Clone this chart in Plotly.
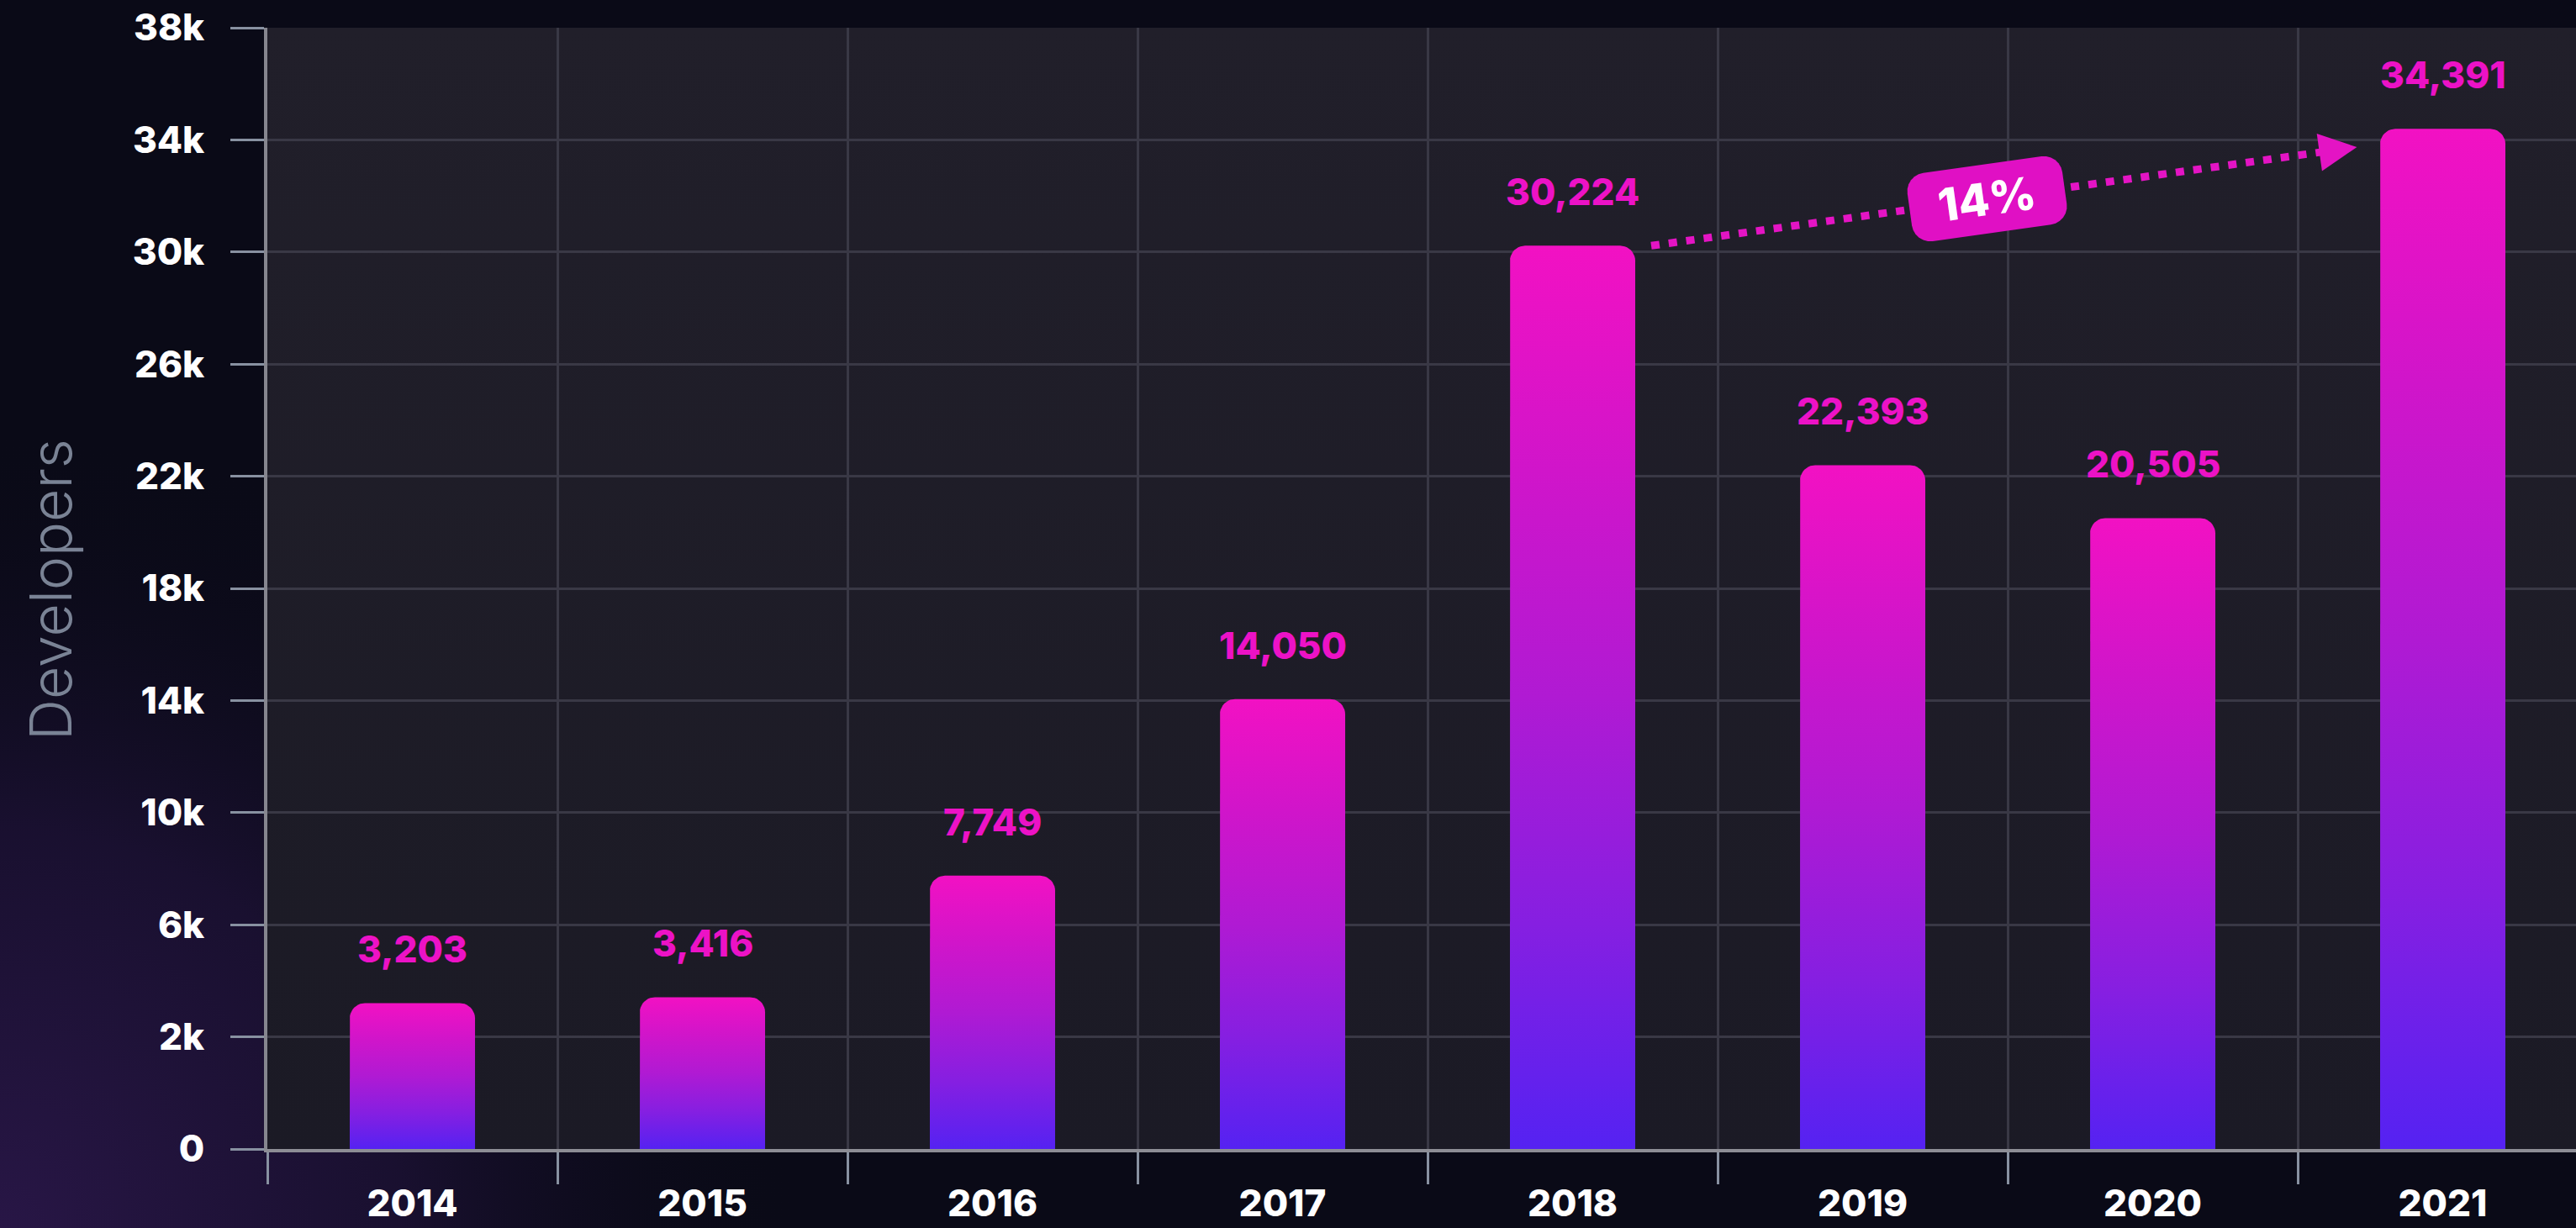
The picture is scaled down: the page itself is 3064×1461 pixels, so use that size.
import math
import plotly.graph_objects as go

# ---------------- data ----------------
years = ["2014", "2015", "2016", "2017", "2018", "2019", "2020", "2021"]
developers = [3203, 3416, 7749, 14050, 30224, 22393, 20505, 34391]
y_tick_vals = [-2000, 2000, 6000, 10000, 14000, 18000, 22000, 26000, 30000, 34000, 38000]
y_tick_text = ["0", "2k", "6k", "10k", "14k", "18k", "22k", "26k", "30k", "34k", "38k"]
growth_label = "14%"
axis_title = "Developers"

# ---------------- layout constants ----------------
W, H = 3064, 1461
L_PX, T_PX, B_PX = 318, 33, 94
PLOT_W = W - L_PX
PLOT_H = H - T_PX - B_PX
Y_MIN, Y_MAX = -2000, 38000
BASE = Y_MIN
CAT_PX = 345.0
X_MIN = -0.5
X_MAX = X_MIN + PLOT_W / CAT_PX
BAR_HALF = 0.216
RADIUS_PX = 18

PAPER = "#0a0a17"
GRID = "#393845"
TICK = "#8891a1"
PINK = "#ec12c6"
ARROW_PINK = "#e414c4"
BAR_SCALE = [[0, "#5522f2"], [0.25, "#861fe1"], [0.5, "#b01ad3"], [0.75, "#d015ca"], [1, "#f211c3"]]
FONT = "Inter"


def px_x(v):
    return L_PX + (v - X_MIN) * CAT_PX


def px_y(v):
    return T_PX + PLOT_H - (v - Y_MIN) / (Y_MAX - Y_MIN) * PLOT_H


def bar_outline(c, top):
    rx = RADIUS_PX / CAT_PX
    ry = RADIUS_PX * (Y_MAX - Y_MIN) / PLOT_H
    xl, xr = c - BAR_HALF, c + BAR_HALF
    xs, ys = [xl, xl], [BASE, top - ry]
    n = 10
    for k in range(1, n + 1):
        a = math.pi - k * (math.pi / 2) / n
        xs.append(xl + rx + rx * math.cos(a))
        ys.append(top - ry + ry * math.sin(a))
    for k in range(0, n + 1):
        a = math.pi / 2 - k * (math.pi / 2) / n
        xs.append(xr - rx + rx * math.cos(a))
        ys.append(top - ry + ry * math.sin(a))
    xs += [xr, xl]
    ys += [BASE, BASE]
    return xs, ys


fig = go.Figure()

# ---- background (full-paper subplot x/y with range 0..1) ----
glow_x, glow_y = [], []
for k in range(0, 73):
    a = 2 * math.pi * k / 72
    glow_x.append(0.0 + 950 / W * math.cos(a))
    glow_y.append(0.0 + 950 / H * math.sin(a))
fig.add_trace(go.Scatter(
    x=glow_x, y=glow_y, xaxis="x", yaxis="y", mode="lines", line=dict(width=0),
    fill="toself",
    fillgradient=dict(type="radial", colorscale=[[0, "rgba(40,22,70,1)"], [0.5, "rgba(28,17,52,0.85)"], [1, "rgba(10,10,23,0)"]]),
    hoverinfo="skip", showlegend=False))

px0, px1 = L_PX / W, 1.0
py0, py1 = B_PX / H, (H - T_PX) / H
fig.add_trace(go.Scatter(
    x=[px0, px1, px1, px0, px0], y=[py0, py0, py1, py1, py0], xaxis="x", yaxis="y",
    mode="lines", line=dict(width=0), fill="toself",
    fillgradient=dict(type="vertical", colorscale=[[0, "#1b1a25"], [1, "#211f2a"]]),
    hoverinfo="skip", showlegend=False))

# ---- bars ----
for i, v in enumerate(developers):
    xs, ys = bar_outline(i, v)
    fig.add_trace(go.Scatter(
        x=xs, y=ys, xaxis="x2", yaxis="y2", mode="lines", line=dict(width=0),
        fill="toself", fillgradient=dict(type="vertical", colorscale=BAR_SCALE),
        hoverinfo="skip", showlegend=False))

annotations = []
for i, v in enumerate(developers):
    annotations.append(dict(
        x=i, y=v, xref="x2", yref="y2", text=f"{v:,}", showarrow=False,
        yanchor="middle", yshift=64,
        font=dict(family=FONT, size=44, color=PINK, weight=800)))

# ---- growth arrow between 2018 and 2021 ----
ARROW_GAP_START = 0.055
ARROW_GAP_END = 0.08
ARROW_DROP = 650
sx, sy = 4 + BAR_HALF + ARROW_GAP_START, developers[4]
tx, ty = 7 - BAR_HALF - ARROW_GAP_END, developers[7] - ARROW_DROP
dxp = px_x(tx) - px_x(sx)
dyp = px_y(sy) - px_y(ty)
theta = math.atan2(dyp, dxp)
t_end = 0.95
ex = sx + (tx - sx) * t_end
ey = sy + (ty - sy) * t_end

shapes = [dict(type="line", xref="x2", yref="y2", x0=sx, y0=sy, x1=ex, y1=ey,
               line=dict(color=ARROW_PINK, width=9, dash="10px,11px"), layer="above")]

HEAD_TAIL = 46
annotations.append(dict(
    x=tx, y=ty, xref="x2", yref="y2", text="", showarrow=True,
    ax=-HEAD_TAIL * math.cos(theta), ay=HEAD_TAIL * math.sin(theta),
    arrowhead=2, arrowwidth=9, arrowsize=1, arrowcolor=ARROW_PINK, standoff=0))

# badge
t_badge = 0.476
cx = sx + (tx - sx) * t_badge
cy = sy + (ty - sy) * t_badge
BW, BH, BR = 186, 82, 22
pts = []
corners = [(BW / 2 - BR, BH / 2 - BR, 0), (-BW / 2 + BR, BH / 2 - BR, 90),
           (-BW / 2 + BR, -BH / 2 + BR, 180), (BW / 2 - BR, -BH / 2 + BR, 270)]
for (ccx, ccy, a0) in corners:
    for k in range(0, 7):
        a = math.radians(a0 + 90 * k / 6)
        pts.append((ccx + BR * math.cos(a), ccy + BR * math.sin(a)))
rot = theta
rpts = [(px_ * math.cos(rot) - py_ * math.sin(rot), px_ * math.sin(rot) + py_ * math.cos(rot)) for px_, py_ in pts]
path = "M " + " L ".join(f"{p[0]:.2f},{p[1]:.2f}" for p in rpts) + " Z"
shapes.append(dict(type="path", xref="x2", yref="y2", xsizemode="pixel", ysizemode="pixel",
                   xanchor=cx, yanchor=cy, path=path, fillcolor="#e010c4",
                   line=dict(width=0), layer="above"))
annotations.append(dict(
    x=cx, y=cy, xref="x2", yref="y2", text=growth_label, showarrow=False,
    textangle=-math.degrees(theta),
    font=dict(family=FONT, size=54, color="white", weight=800)))

# y title
annotations.append(dict(
    x=60 / W, y=(H - 702) / H, xref="paper", yref="paper", text=axis_title,
    showarrow=False, textangle=-90, xanchor="center", yanchor="middle",
    font=dict(family=FONT, size=68, color="#7a8395", weight=300)))

fig.update_layout(
    width=W, height=H, autosize=False,
    margin=dict(l=0, r=0, t=0, b=0, pad=0, autoexpand=False),
    paper_bgcolor=PAPER, plot_bgcolor="rgba(0,0,0,0)",
    showlegend=False,
    xaxis=dict(domain=[0, 1], range=[0, 1], visible=False, fixedrange=True, automargin=False),
    yaxis=dict(domain=[0, 1], range=[0, 1], visible=False, fixedrange=True, automargin=False),
    xaxis2=dict(
        domain=[L_PX / W, 1], anchor="y2", range=[X_MIN, X_MAX], automargin=False,
        tickmode="array", tickvals=list(range(len(years))), ticktext=years,
        ticks="outside", ticklen=23, tickcolor="rgba(0,0,0,0)", tickwidth=3,
        showgrid=False, zeroline=False,
        showline=True, linecolor="#8d8d95", linewidth=4,
        tickfont=dict(family=FONT, size=44, color="white", weight=800),
        minor=dict(tickmode="array", tickvals=[i + 0.5 for i in range(-1, len(years))],
                   ticks="outside", ticklen=38, tickwidth=3, tickcolor=TICK,
                   showgrid=True, gridcolor=GRID, gridwidth=3),
    ),
    yaxis2=dict(
        domain=[B_PX / H, (H - T_PX) / H], anchor="x2", range=[Y_MIN, Y_MAX], automargin=False,
        tickmode="array", tickvals=y_tick_vals, ticktext=y_tick_text,
        ticks="outside", ticklen=40, tickwidth=3, tickcolor=TICK,
        showgrid=True, gridcolor=GRID, gridwidth=3, zeroline=False,
        showline=True, linecolor="#86868f", linewidth=4,
        tickfont=dict(family=FONT, size=44, color="white", weight=800),
        ticklabelstandoff=22,
    ),
    shapes=shapes,
    annotations=annotations,
)

fig.write_html("out.html")
